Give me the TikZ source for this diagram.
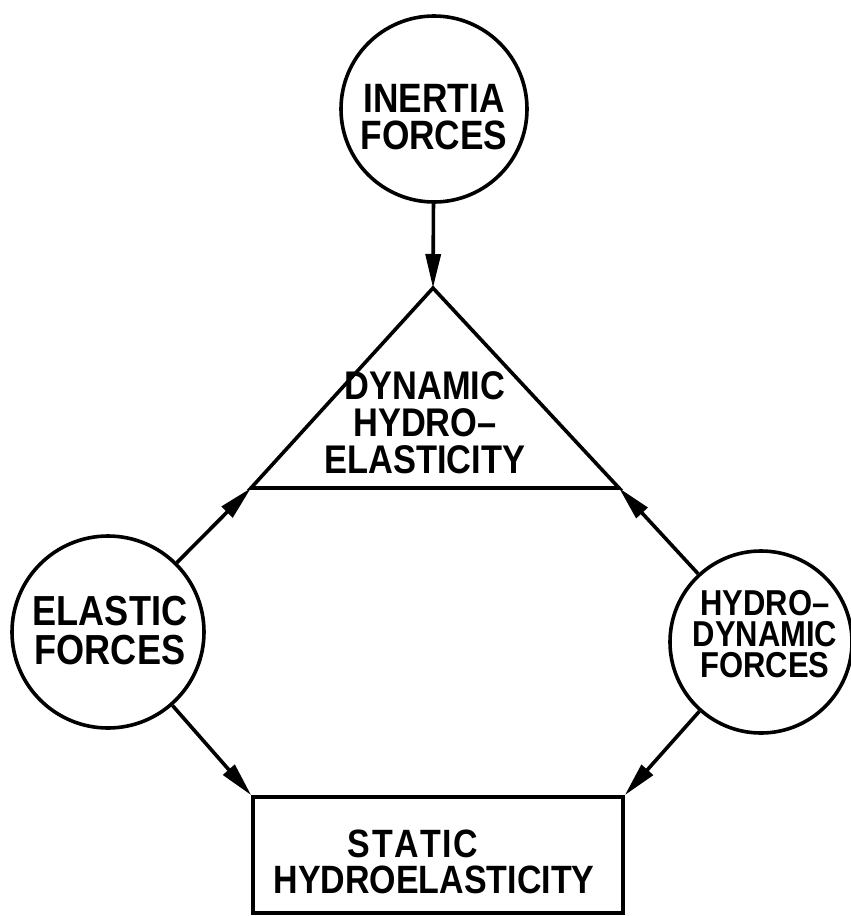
\documentclass[tikz,border=0pt]{standalone}
\usepackage{fontspec}
\setmainfont{Liberation Sans}[FakeStretch=0.86]
\usetikzlibrary{arrows.meta}
\begin{document}
\begin{tikzpicture}[x=1pt,y=-1pt,
  lbl/.style={font=\bfseries\fontsize{41}{37}\selectfont,align=center,inner sep=0pt},
  forcecircle/.style={circle,draw,line width=3.6pt,inner sep=0pt},
  arr/.style={-{Triangle[length=34pt,width=15pt]},line width=3.6pt},
  outlinebox/.style={draw,line width=3.6pt,line join=miter}]
\useasboundingbox (0,0) rectangle (851,916);
% circles
\node[forcecircle,minimum size=186pt] (inertia) at (434,109) {};
\node[lbl] (inertiatext) at (434,117) {INERTIA\\FORCES};
\node[forcecircle,minimum size=192pt] (elastic) at (108,632) {};
\node[lbl,font=\bfseries\fontsize{42}{39}\selectfont] (elastictext) at (110,631) {ELASTIC\\FORCES};
\node[forcecircle,minimum size=182pt] (hydro) at (761,642) {};
\node[lbl,font=\bfseries\fontsize{36}{31}\selectfont] (hydrotext) at (765,634) {HYDRO--\\DYNAMIC\\FORCES};
% triangle
\coordinate (apex) at (433,288);
\coordinate (tl) at (251,488);
\coordinate (tr) at (619,488);
\draw[outlinebox] (apex) -- (tl) -- (tr) -- cycle;
\node[lbl,font=\bfseries\fontsize{40}{37}\selectfont] (dyn) at (425,423) {DYNAMIC\\HYDRO--\\ELASTICITY};
% rectangle
\node[outlinebox,minimum width=370pt,minimum height=116pt] (static) at (438,855) {};
\node[lbl,font=\bfseries\fontsize{39.5}{36}\selectfont] (statictext) at (434,862) {S\kern1.5pt T\kern1.5pt A\kern1.5pt T\kern1.5pt I\kern1.5pt C\hspace*{42pt}\\HYDROELASTICITY};
% connectors
\draw[arr] (inertia) -- (apex);
\draw[arr] (elastic) -- (tl);
\draw[arr] (hydro) -- (tr);
\draw[arr] (elastic) -- (static.north west);
\draw[arr] (hydro) -- (static.north east);
\end{tikzpicture}
\end{document}
